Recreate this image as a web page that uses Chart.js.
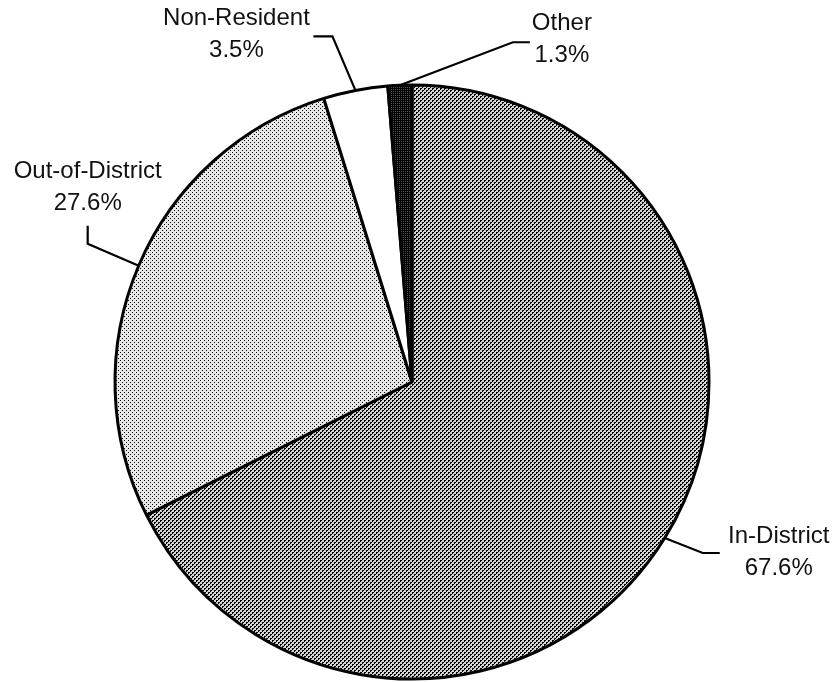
<!DOCTYPE html>
<html>
<head>
<meta charset="utf-8">
<script src="https://cdn.jsdelivr.net/npm/chart.js@4/dist/chart.umd.min.js"></script>
<style>
  html, body { margin: 0; padding: 0; background: #fff; }
  #chart { display: block; }
</style>
</head>
<body>
<canvas id="chart" width="837" height="682"></canvas>
<script>
// data
const categories = ['In-District', 'Out-of-District', 'Non-Resident', 'Other'];
const shares = [67.6, 27.6, 3.5, 1.3];
const shareLabels = ['67.6%', '27.6%', '3.5%', '1.3%'];

// label placement, relative to where the leader meets the slice edge
const labelLayout = [
  { elbow: [38, 15],   end: [55, 15],   text: [114, -2] },
  { elbow: [-51, -22], end: [-51, -40], text: [-51, -94] },
  { elbow: [-23, -54], end: [-42, -54], text: [-119, -72] },
  { elbow: [113, -43], end: [130, -43], text: [162, -62] }
];

// small bitmap tiles standing in for the printed halftone fills
function makePattern(size, dark, bg) {
  const c = document.createElement('canvas');
  c.width = size; c.height = size;
  const g = c.getContext('2d');
  g.fillStyle = bg || '#fff';
  g.fillRect(0, 0, size, size);
  g.fillStyle = '#000';
  dark.forEach(p => g.fillRect(p[0], p[1], 1, 1));
  return g.createPattern(c, 'repeat');
}

const fills = [
  makePattern(4, [[0,0],[1,0],[0,1],[2,2],[3,2],[2,3]], '#d4d4d4'),
  makePattern(4, [[0,0],[2,2]], '#e8e8e8'),
  '#ffffff',
  makePattern(2, [[0,0],[1,0],[0,1]], '#555')
];

const calloutPlugin = {
  id: 'callouts',
  afterDraw(chart) {
    const ctx = chart.ctx;
    const meta = chart.getDatasetMeta(0);
    ctx.save();
    ctx.strokeStyle = '#000';
    ctx.lineWidth = 2.2;
    ctx.fillStyle = '#111';
    ctx.font = '24px "Liberation Sans", Arial, sans-serif';
    ctx.textAlign = 'center';
    ctx.textBaseline = 'middle';
    meta.data.forEach((arc, i) => {
      const { x, y, startAngle, endAngle, outerRadius } = arc.getProps(['x', 'y', 'startAngle', 'endAngle', 'outerRadius'], true);
      const mid = (startAngle + endAngle) / 2;
      const ax = x + Math.cos(mid) * outerRadius;
      const ay = y + Math.sin(mid) * outerRadius;
      const L = labelLayout[i];
      ctx.beginPath();
      ctx.moveTo(ax, ay);
      ctx.lineTo(ax + L.elbow[0], ay + L.elbow[1]);
      ctx.lineTo(ax + L.end[0], ay + L.end[1]);
      ctx.stroke();
      ctx.fillText(categories[i], ax + L.text[0], ay + L.text[1]);
      ctx.fillText(shareLabels[i], ax + L.text[0], ay + L.text[1] + 32);
    });
    ctx.restore();
  }
};

new Chart(document.getElementById('chart'), {
  type: 'pie',
  data: {
    labels: categories,
    datasets: [{
      data: shares,
      backgroundColor: fills,
      borderColor: '#000',
      borderWidth: 3,
      radius: 297
    }]
  },
  options: {
    responsive: false,
    animation: false,
    devicePixelRatio: 1,
    layout: { padding: { left: 0, right: 13, top: 82, bottom: 0 } },
    plugins: {
      legend: { display: false },
      tooltip: { enabled: false }
    }
  },
  plugins: [calloutPlugin]
});
</script>
</body>
</html>
